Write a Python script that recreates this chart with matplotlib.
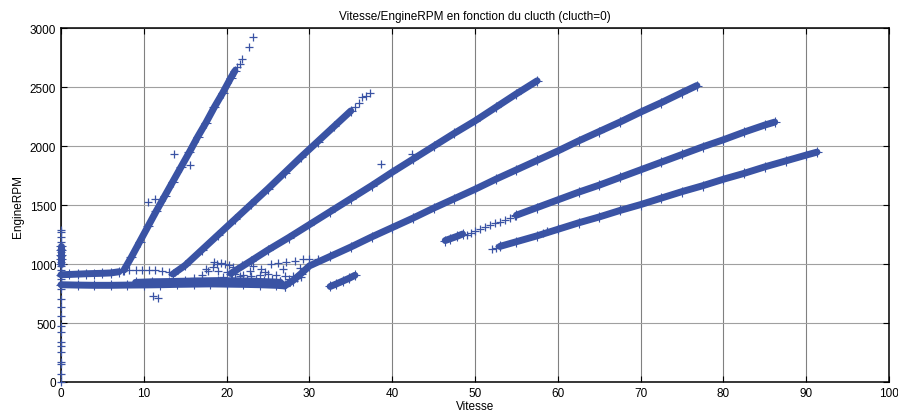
import matplotlib.pyplot as plt

# Vitesse / EngineRPM, clutch = 0

# gear 1
g1_v = [7.6, 8.5, 9.5, 10.5, 11.5, 12.5, 13.5, 14.5, 15.5, 16.5, 17.5, 18.5, 19.5, 20.5, 21.0]
g1_rpm = [950, 1060, 1190, 1320, 1450, 1575, 1700, 1825, 1950, 2080, 2200, 2330, 2450, 2580, 2640]
g1_tail_v = [21.2, 21.6, 21.9, 22.7, 23.2, 10.5, 11.35, 13.6, 15.6]
g1_tail_rpm = [2670, 2700, 2740, 2840, 2925, 1525, 1553, 1935, 1845]

# gear 2
g2_v = [13.5, 15, 17, 19, 21, 23, 25, 27, 29, 31, 33, 35]
g2_rpm = [915, 990, 1120, 1250, 1380, 1510, 1640, 1775, 1910, 2040, 2170, 2300]
g2_tail_v = [35.5, 36.0, 36.3, 36.8, 37.3]
g2_tail_rpm = [2335, 2370, 2415, 2430, 2455]

# gear 3
g3_v = [20.5, 23, 25, 27.5, 30, 32.5, 35, 37.5, 40, 42.5, 45, 47.5, 50, 52.5, 55, 57.5]
g3_rpm = [920, 1030, 1120, 1225, 1335, 1445, 1555, 1665, 1780, 1890, 2000, 2110, 2215, 2330, 2445, 2555]
g3_out_v = [38.7, 42.4]
g3_out_rpm = [1850, 1935]

# gear 4
g4_v = [27.0, 28.0, 29.0, 30, 32.5, 35, 37.5, 40, 42.5, 45, 47.5, 50, 52.5, 55,
        57.5, 60, 62.5, 65, 67.5, 70, 72.5, 75, 76.8]
g4_rpm = [815, 860, 920, 985, 1065, 1145, 1230, 1310, 1390, 1475, 1555, 1635, 1720, 1800,
          1880, 1960, 2045, 2125, 2205, 2290, 2370, 2455, 2515]

# gear 5
g5a_v = [46.4, 47.0, 47.8, 48.5]
g5a_rpm = [1200, 1215, 1235, 1255]
g5_sparse_v = [49, 49.5, 50, 50.6, 51.2, 51.8, 52.4, 53, 53.6, 54.2, 54.8]
g5_sparse_rpm = [1250, 1262, 1280, 1296, 1312, 1328, 1345, 1360, 1378, 1393, 1408]
g5b_v = [55.0, 57.5, 60, 62.5, 65, 67.5, 70, 72.5, 75, 77.5, 80, 82.5, 85, 86.2]
g5b_rpm = [1415, 1480, 1545, 1610, 1670, 1735, 1800, 1865, 1930, 1995, 2055, 2120, 2180, 2205]
g5_low_v = [32.5, 33.2, 34.0, 34.8, 35.5]
g5_low_rpm = [810, 830, 855, 880, 905]

# gear 6
g6_v = [53.0, 55, 57.5, 60, 62.5, 65, 67.5, 70, 72.5, 75, 77.5, 80, 82.5, 85, 87.5, 90, 91.3]
g6_rpm = [1150, 1190, 1240, 1295, 1350, 1400, 1455, 1505, 1560, 1615, 1665, 1720, 1770,
          1825, 1875, 1925, 1950]
g6_sparse_v = [52.0, 52.5, 53.0, 58.2, 58.7]
g6_sparse_rpm = [1128, 1138, 1150, 1268, 1280]

# idle
idle_v = [0, 2, 4, 6, 8, 10, 12, 14, 16, 18, 20, 22, 24, 26, 27]
idle_rpm = [825, 822, 820, 820, 822, 823, 825, 828, 830, 832, 830, 828, 825, 820, 815]
idle2_v = [9, 11, 13, 15, 17, 19, 21, 23, 25, 26.5]
idle2_rpm = [845, 850, 852, 855, 858, 860, 858, 855, 850, 845]
up_v = [0, 1, 2, 3, 4, 5, 6, 7]
up_rpm = [910, 912, 915, 918, 920, 922, 925, 935]
up_sparse_v = [7.5, 8.2, 9.0, 9.8, 10.6, 11.4, 12.2, 13.0, 13.8, 11.15, 11.75]
up_sparse_rpm = [945, 950, 948, 952, 950, 948, 940, 935, 930, 733, 713]

mess_v = [16.0, 17.0, 17.8, 18.3, 18.8, 19.3, 19.8, 20.3, 20.8, 21.3, 19.0, 20.0, 21.0,
          22.0, 23.0, 24.0, 25.0, 26.0, 27.0, 28.0, 22.5, 23.5, 24.5, 25.5, 26.5, 27.5,
          28.5, 29.0, 25.3, 26.2, 27.2, 28.3, 29.2, 30.0, 31.0, 17.5, 18.5, 21.8, 23.2, 24.2,
          19.6, 20.6, 21.6, 22.8, 24.6, 26.8, 28.8]
mess_rpm = [880, 905, 940, 975, 1000, 1010, 1005, 990, 975, 960, 940, 930, 915,
            905, 900, 910, 915, 905, 900, 895, 870, 875, 865, 870, 860, 875,
            880, 890, 1000, 1010, 1020, 1030, 1040, 1045, 1040, 960, 1020, 990, 985, 960,
            890, 880, 900, 940, 930, 960, 965]

zero_rpm = [1290, 1271, 1228, 1186, 1150, 1129, 1100, 1072, 1045, 1016, 980, 950, 917,
            900, 870, 832, 789, 705, 634, 563, 478, 422, 337, 308, 252, 167, 153, 68, 3]
zero_band_rpm = [1000, 1040, 1080, 1120, 1150]

#################################################################

col = '#3a53a4'
bands = [(g1_v, g1_rpm), (g2_v, g2_rpm), (g3_v, g3_rpm), (g4_v, g4_rpm),
         (g5a_v, g5a_rpm), (g5b_v, g5b_rpm), (g5_low_v, g5_low_rpm), (g6_v, g6_rpm),
         (idle_v, idle_rpm), (idle2_v, idle2_rpm), (up_v, up_rpm),
         ([0] * len(zero_band_rpm), zero_band_rpm)]
sparse = [(g1_tail_v, g1_tail_rpm), (g2_tail_v, g2_tail_rpm), (g3_out_v, g3_out_rpm),
          (g5_sparse_v, g5_sparse_rpm), (g6_sparse_v, g6_sparse_rpm),
          (up_sparse_v, up_sparse_rpm), (mess_v, mess_rpm), ([0] * len(zero_rpm), zero_rpm)]

plt.rcParams['font.family'] = ['Liberation Sans', 'DejaVu Sans']

fig = plt.figure(figsize=(8.98, 4.14), dpi=100)
ax = fig.add_axes([0.068, 0.075, 0.922, 0.854])

for v, r in bands:
    ax.plot(v, r, '-', color=col, lw=5, solid_capstyle='round', zorder=3, clip_on=False)
    ax.plot(v, r, '+', color=col, ms=6.5, mew=0.8, zorder=3, clip_on=False)
for v, r in sparse:
    ax.plot(v, r, '+', color=col, ms=6, mew=0.9, ls='none', zorder=3, clip_on=False)

ax.set_xlim(0, 100)
ax.set_ylim(0, 3000)
ax.set_xticks(range(0, 101, 10))
ax.set_yticks(range(0, 3001, 500))
ax.grid(True, axis='x', color='#808080', lw=0.8)
ax.grid(True, axis='y', color='#a0a0a0', lw=0.8)
ax.set_axisbelow(True)
ax.tick_params(direction='in', top=True, right=True, length=4, labelsize=8.5)
for s in ax.spines.values():
    s.set_linewidth(1.1)

ax.set_title('Vitesse/EngineRPM en fonction du clucth (clucth=0)', fontsize=8.5, pad=7)
ax.set_xlabel('Vitesse', fontsize=8.5, labelpad=1)
ax.set_ylabel('EngineRPM', fontsize=8.5, labelpad=4)

plt.savefig('out.png', dpi=100)
